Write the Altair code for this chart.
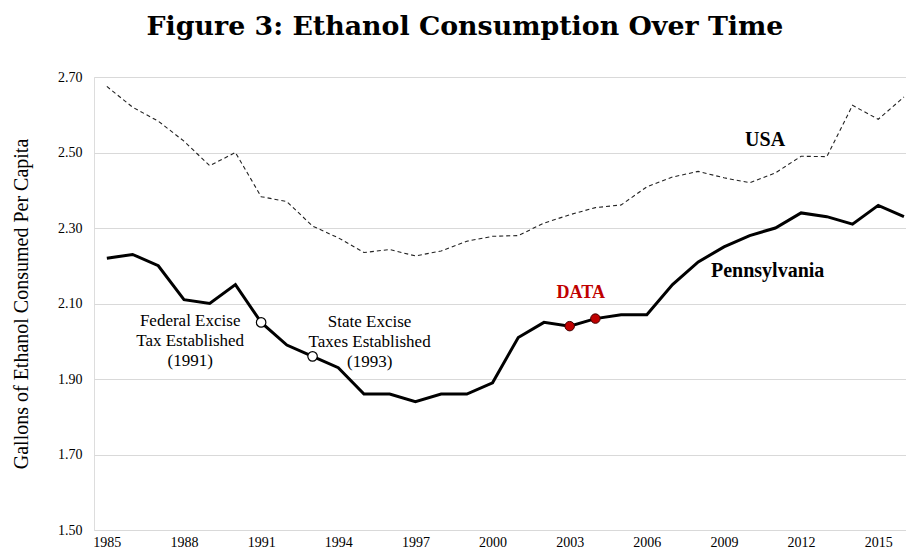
import altair as alt
import pandas as pd

years = list(range(1985, 2017))
pa = [2.22, 2.23, 2.20, 2.11, 2.10, 2.15, 2.05, 1.99, 1.96, 1.93,
      1.86, 1.86, 1.84, 1.86, 1.86, 1.89, 2.01, 2.05, 2.04, 2.06,
      2.07, 2.07, 2.15, 2.21, 2.25, 2.28, 2.30, 2.34, 2.33, 2.31,
      2.36, 2.33]
usa = [2.675, 2.62, 2.583, 2.53, 2.465, 2.50, 2.383, 2.37, 2.305, 2.274,
       2.235, 2.243, 2.226, 2.239, 2.265, 2.278, 2.28, 2.313, 2.335, 2.354,
       2.361, 2.409, 2.435, 2.45, 2.433, 2.42, 2.446, 2.49, 2.489, 2.625,
       2.588, 2.647]

tax_years = [1991, 1993]
tax_vals = [2.05, 1.96]
data_years = [2003, 2004]
data_vals = [2.04, 2.06]

x_ticks = list(range(1985, 2016, 3))
y_ticks = [1.5, 1.7, 1.9, 2.1, 2.3, 2.5, 2.7]

label_text = ["USA", "Pennsylvania"]
label_x = [2010.6, 2010.7]
label_y = [2.533, 2.185]

data_label = ["DATA"]
data_label_x = [2003.43]
data_label_y = [2.127]

fed_lines = ["Federal Excise", "Tax Established", "(1991)"]
fed_x = [1988.24, 1988.24, 1988.24]
fed_y = [2.054, 2.001, 1.947]
state_lines = ["State Excise", "Taxes Established", "(1993)"]
state_x = [1995.22, 1995.22, 1995.22]
state_y = [2.052, 1.999, 1.945]

SERIF = "Liberation Serif"

df_pa = pd.DataFrame({"year": years, "value": pa})
df_usa = pd.DataFrame({"year": years, "value": usa})
df_tax = pd.DataFrame({"year": tax_years, "value": tax_vals})
df_data = pd.DataFrame({"year": data_years, "value": data_vals})
df_lab = pd.DataFrame({"t": label_text, "x": label_x, "y": label_y})
df_dlab = pd.DataFrame({"t": data_label, "x": data_label_x, "y": data_label_y})
df_ann = pd.DataFrame({"t": fed_lines + state_lines,
                       "x": fed_x + state_x, "y": fed_y + state_y})

xscale = alt.Scale(domain=[1984.5, 2016.08], nice=False, zero=False)
yscale = alt.Scale(domain=[1.5, 2.7], nice=False, zero=False)

xaxis = alt.Axis(values=x_ticks, format="d", grid=False, domain=False,
                 ticks=False, tickSize=0, labelPadding=5, labelFont=SERIF,
                 labelFontSize=14, labelColor="#000000", title=None,
                 labelFlush=False, labelOverlap=False)
yaxis = alt.Axis(values=y_ticks, format=".2f", grid=True, gridColor="#d9d9d9",
                 gridWidth=1, domain=False, ticks=False, tickSize=0,
                 labelPadding=12, labelFont=SERIF, labelFontSize=14,
                 labelColor="#000000",
                 title="Gallons of Ethanol Consumed Per Capita",
                 titleFont=SERIF, titleFontSize=20, titleFontWeight="normal",
                 titleColor="#000000", titlePadding=26, labelFlush=False)

base_x = alt.X("year:Q", scale=xscale, axis=xaxis)
base_y = alt.Y("value:Q", scale=yscale, axis=yaxis)

usa_line = alt.Chart(df_usa).mark_line(
    color="#222222", strokeWidth=1.1, strokeDash=[4, 3]
).encode(x=base_x, y=base_y)

pa_line = alt.Chart(df_pa).mark_line(
    color="#000000", strokeWidth=3, strokeJoin="miter"
).encode(x=alt.X("year:Q", scale=xscale), y=alt.Y("value:Q", scale=yscale))

tax_pts = alt.Chart(df_tax).mark_point(
    shape="circle", filled=True, fill="#ffffff", stroke="#000000",
    strokeWidth=1.2, size=90, opacity=1
).encode(x=alt.X("year:Q", scale=xscale), y=alt.Y("value:Q", scale=yscale))

data_pts = alt.Chart(df_data).mark_point(
    shape="circle", filled=True, fill="#c00000", stroke="#400000",
    strokeWidth=1, size=90, opacity=1
).encode(x=alt.X("year:Q", scale=xscale), y=alt.Y("value:Q", scale=yscale))

labels = alt.Chart(df_lab).mark_text(
    font=SERIF, fontSize=20, fontWeight="bold", color="#000000",
    align="center", baseline="middle"
).encode(x=alt.X("x:Q", scale=xscale), y=alt.Y("y:Q", scale=yscale),
         text="t:N")

dlab = alt.Chart(df_dlab).mark_text(
    font=SERIF, fontSize=18, fontWeight="bold", color="#c00000",
    align="center", baseline="middle"
).encode(x=alt.X("x:Q", scale=xscale), y=alt.Y("y:Q", scale=yscale),
         text="t:N")

ann = alt.Chart(df_ann).mark_text(
    font=SERIF, fontSize=17, color="#000000",
    align="center", baseline="middle"
).encode(x=alt.X("x:Q", scale=xscale), y=alt.Y("y:Q", scale=yscale),
         text="t:N")

chart = alt.layer(
    usa_line, pa_line, tax_pts, data_pts, labels, dlab, ann
).properties(
    width=812, height=453,
    autosize=alt.AutoSizeParams(type="none"),
    padding={"left": 86, "top": 69, "right": 0, "bottom": 20},
    title=alt.TitleParams(
        "Figure 3: Ethanol Consumption Over Time",
        font="DejaVu Serif", fontSize=26.8, fontWeight="bold", color="#000000",
        anchor="middle", frame="group", dx=-35, offset=8,
        baseline="alphabetic"
    )
).configure_view(stroke=None).configure(background="#ffffff")

chart.save("out.html", embed_options={"renderer": "svg", "actions": False})
